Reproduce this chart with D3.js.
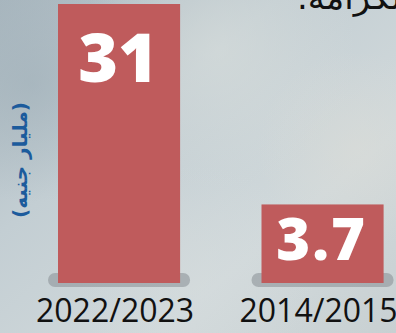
<!DOCTYPE html>
<html>
<head>
<meta charset="utf-8">
<script src="https://cdn.jsdelivr.net/npm/d3@7"></script>
<style>
  html, body { margin: 0; padding: 0; overflow: hidden; }
  svg { display: block; }
</style>
</head>
<body>
<script>
// Chart data
const categories = ["2022/2023", "2014/2015"];
const values = [31, 3.7];
const valueLabels = ["31", "3.7"];
const unitLabel = "(مليار جنيه)";
const headingTail = "الكرامة.";

const W = 396, H = 333;
const svg = d3.select("body").append("svg")
  .attr("width", W).attr("height", H);

// Textured grey-blue backdrop
const defs = svg.append("defs");
const bg = defs.append("linearGradient").attr("id", "bg")
  .attr("x1", 0).attr("y1", 0).attr("x2", 1).attr("y2", 1);
bg.append("stop").attr("offset", "0%").attr("stop-color", "#a9b7bf");
bg.append("stop").attr("offset", "35%").attr("stop-color", "#c3ced3");
bg.append("stop").attr("offset", "70%").attr("stop-color", "#d1d9db");
bg.append("stop").attr("offset", "100%").attr("stop-color", "#c8d0d2");
svg.append("rect").attr("width", W).attr("height", H).attr("fill", "url(#bg)");

const blotches = [
  { cx: 0.55, cy: 0.15, r: 0.35, c: "#dadfdc", o: 0.55 },
  { cx: 0.9, cy: 0.45, r: 0.25, c: "#dcdcd6", o: 0.5 },
  { cx: 0.08, cy: 0.25, r: 0.3, c: "#9eaeb7", o: 0.55 },
  { cx: 0.5, cy: 0.85, r: 0.3, c: "#d6dcdd", o: 0.5 }
];
blotches.forEach((b, i) => {
  const g = defs.append("radialGradient").attr("id", "bl" + i);
  g.append("stop").attr("offset", "0%").attr("stop-color", b.c).attr("stop-opacity", b.o);
  g.append("stop").attr("offset", "100%").attr("stop-color", b.c).attr("stop-opacity", 0);
  svg.append("circle")
    .attr("cx", b.cx * W).attr("cy", b.cy * H).attr("r", b.r * W)
    .attr("fill", `url(#bl${i})`);
});

// Trailing end of the heading line above the chart
svg.append("text")
  .attr("x", 297).attr("y", 9)
  .attr("direction", "rtl")
  .attr("text-anchor", "end")
  .attr("font-family", "DejaVu Sans, sans-serif")
  .attr("font-size", 34)
  .attr("fill", "#111")
  .text(headingTail);

// Scales
const x = d3.scaleBand()
  .domain(categories)
  .range([17.3, 424.3])
  .paddingInner(0.4)
  .paddingOuter(0.2);

const y = d3.scaleLinear()
  .domain([-7, 31])
  .range([283, 4]);

const base = y.domain()[0];

// Soft grey plinth under each bar
svg.append("g").selectAll("rect")
  .data(categories)
  .join("rect")
  .attr("x", d => x(d) - 10)
  .attr("y", y(base) - 10)
  .attr("width", x.bandwidth() + 20)
  .attr("height", 14)
  .attr("rx", 7)
  .attr("fill", "#8d9499")
  .attr("opacity", 0.6);

// Bars
svg.append("g").selectAll("rect")
  .data(values)
  .join("rect")
  .attr("x", (d, i) => x(categories[i]))
  .attr("y", d => y(d))
  .attr("width", x.bandwidth())
  .attr("height", d => y(base) - y(d))
  .attr("fill", "#bf5b5c");

// Value labels inside bars
const labelSize = [68, 58];
const labelDrop = [78, 56];
svg.append("g").selectAll("text")
  .data(values)
  .join("text")
  .attr("x", (d, i) => x(categories[i]) + x.bandwidth() / 2 - 1)
  .attr("y", (d, i) => y(d) + labelDrop[i])
  .attr("text-anchor", "middle")
  .attr("font-family", "Open Sans, sans-serif")
  .attr("font-weight", 800)
  .attr("font-size", (d, i) => labelSize[i])
  .attr("letter-spacing", (d, i) => i === 1 ? 2 : 0)
  .attr("fill", "#ffffff")
  .text((d, i) => valueLabels[i]);

// Category axis
const xAxis = svg.append("g")
  .attr("transform", `translate(-4,${y(base)})`)
  .call(d3.axisBottom(x).tickSize(0).tickPadding(16));
xAxis.select(".domain").remove();
xAxis.selectAll("text")
  .attr("font-family", "Open Sans, sans-serif")
  .attr("font-size", 32)
  .attr("fill", "#111")
  .attr("dy", "0.71em");

// Unit label, rotated along the left edge
svg.append("text")
  .attr("transform", "translate(27,160) rotate(-90)")
  .attr("text-anchor", "middle")
  .attr("direction", "rtl")
  .attr("font-family", "DejaVu Sans, sans-serif")
  .attr("font-weight", 700)
  .attr("font-size", 20)
  .attr("fill", "#1c5b9c")
  .text(unitLabel);
</script>
</body>
</html>
